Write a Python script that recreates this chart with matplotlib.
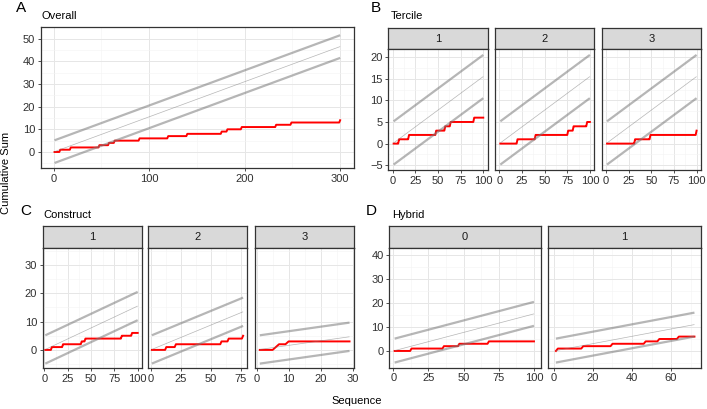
import numpy as np
import matplotlib.pyplot as plt
from matplotlib.ticker import MultipleLocator

plt.rcParams['font.family'] = ['Liberation Sans', 'DejaVu Sans']

W, H = 707, 409

# CUSUM control limit half-width
h_limit = 5

# A: overall
overall_n = 300
overall_rate = 0.155
overall_events = [7, 18, 48, 58, 64, 90, 120, 140, 176, 182, 197, 233, 249, 300]

# B: tercile
tercile_labels = ["1", "2", "3"]
tercile_n = [100, 100, 100]
tercile_rate = [0.155, 0.155, 0.155]
tercile_events = [[7, 18, 48, 58, 64, 90], [20, 40, 76, 82, 97], [32, 49, 100]]

# C: construct
construct_labels = ["1", "2", "3"]
construct_n = [100, 77, 29]
construct_rate = [0.155, 0.175, 0.16]
construct_events = [[8, 20, 40, 44, 83, 94], [13, 21, 59, 65, 77], [6, 7, 10]]

# D: hybrid
hybrid_labels = ["0", "1"]
hybrid_n = [100, 72]
hybrid_rate = [0.155, 0.153]
hybrid_events = [[13, 36, 47, 68], [2, 15, 30, 47, 54, 64]]

BORDER = "#333333"
TXT = "#303030"


def px_axes(fig, left, top, right, bottom, **kw):
    return fig.add_axes([left / W, 1 - bottom / H, (right - left) / W, (bottom - top) / H], **kw)


def draw_cusum(ax, n, events, rate):
    x = np.arange(1, n + 1)
    y = np.searchsorted(np.sort(events), x, side="right")
    ax.plot(x, y, color="#ff0000", lw=1.4, zorder=2)
    ends = np.array([1, n])
    for off, lw in [(h_limit, 1.6), (-h_limit, 1.6), (0, 0.5)]:
        ax.plot(ends, ends * rate + off, color="#7a7a7a", alpha=0.55, lw=lw,
                solid_capstyle="butt", zorder=3)


def style(ax, xlim, ylim, xstep, ystep, show_y=True):
    ax.set_xlim(*xlim)
    ax.set_ylim(*ylim)
    ax.xaxis.set_major_locator(MultipleLocator(xstep))
    ax.xaxis.set_minor_locator(MultipleLocator(xstep / 2))
    ax.yaxis.set_major_locator(MultipleLocator(ystep))
    ax.yaxis.set_minor_locator(MultipleLocator(ystep / 2))
    ax.grid(which="major", color="#e6e6e6", lw=0.7)
    ax.grid(which="minor", color="#f3f3f3", lw=0.4)
    ax.set_axisbelow(True)
    ax.tick_params(which="minor", length=0)
    ax.tick_params(which="major", length=2.5, width=0.6, color=BORDER,
                   labelsize=8, labelcolor=TXT, pad=1.5)
    if not show_y:
        ax.tick_params(axis="y", which="both", left=False, labelleft=False)
    for s in ax.spines.values():
        s.set_color(BORDER)
        s.set_linewidth(0.9)


def strip(fig, left, top, right, bottom, label):
    sa = px_axes(fig, left, top, right, bottom)
    sa.set_facecolor("#d9d9d9")
    sa.set_xticks([])
    sa.set_yticks([])
    for s in sa.spines.values():
        s.set_color(BORDER)
        s.set_linewidth(0.9)
    sa.text(0.5, 0.5, label, ha="center", va="center", fontsize=8, color="#1a1a1a",
            transform=sa.transAxes)


def heading(fig, letter, lx, ly, title, tx, ty):
    fig.text(lx / W, 1 - ly / H, letter, fontsize=11, ha="left", va="center")
    fig.text(tx / W, 1 - ty / H, title, fontsize=8, ha="left", va="center")


fig = plt.figure(figsize=(W / 100, H / 100), dpi=100)

# ---- A: Overall
ax = px_axes(fig, 40.7, 27.3, 354, 168.3)
draw_cusum(ax, overall_n, overall_events, overall_rate)
style(ax, (-13.5, 314.5), (-7.2, 55.0), 100, 10)
heading(fig, "A", 16, 8, "Overall", 42, 16)

# ---- B: Tercile
b_x = [(388.3, 487.7), (495, 594.3), (601.7, 701)]
for i, (l, r) in enumerate(b_x):
    strip(fig, l, 28.3, r, 49.3, tercile_labels[i])
    ax = px_axes(fig, l, 49.3, r, 170)
    draw_cusum(ax, tercile_n[i], tercile_events[i], tercile_rate[i])
    style(ax, (-4.9, 104.9), (-6.1, 21.8), 25, 5, show_y=(i == 0))
heading(fig, "B", 371, 8, "Tercile", 391, 16)

# ---- C: Construct
c_x = [(42.7, 141.7), (148.3, 247.3), (255, 354)]
c_xlim = [(-1.8, 104.3), (-2.0, 80.5), (-0.5, 30.4)]
c_step = [25, 25, 10]
for i, (l, r) in enumerate(c_x):
    strip(fig, l, 226, r, 248.3, construct_labels[i])
    ax = px_axes(fig, l, 248.3, r, 368.3)
    draw_cusum(ax, construct_n[i], construct_events[i], construct_rate[i])
    style(ax, c_xlim[i], (-6.5, 35.9), c_step[i], 10, show_y=(i == 0))
heading(fig, "C", 20, 211, "Construct", 43, 215)

# ---- D: Hybrid
d_x = [(389.3, 541), (548.3, 700.7)]
d_xlim = [(-2.8, 105), (-2.9, 75.2)]
d_step = [25, 20]
for i, (l, r) in enumerate(d_x):
    strip(fig, l, 226, r, 248.3, hybrid_labels[i])
    ax = px_axes(fig, l, 248.3, r, 367.7)
    draw_cusum(ax, hybrid_n[i], hybrid_events[i], hybrid_rate[i])
    style(ax, d_xlim[i], (-7.0, 42.9), d_step[i], 10, show_y=(i == 0))
heading(fig, "D", 366, 211, "Hybrid", 392, 215)

fig.text(6 / W, 1 - 173 / H, "Cumulative Sum", rotation=90, ha="center", va="center", fontsize=8)
fig.text(357 / W, 1 - 401 / H, "Sequence", ha="center", va="center", fontsize=8)

fig.savefig("out.png", dpi=100)
